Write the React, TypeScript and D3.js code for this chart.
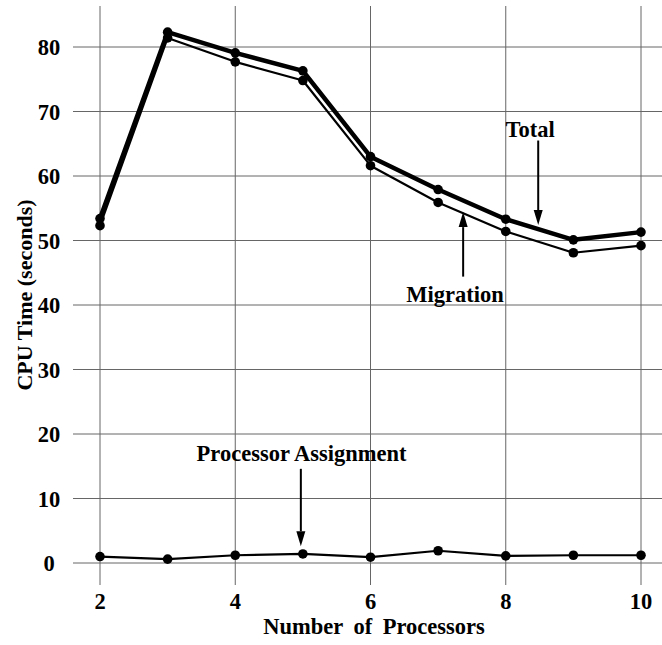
import * as d3 from 'd3'

// number of processors
const processors = [2, 3, 4, 5, 6, 7, 8, 9, 10]
// CPU time in seconds
const total = [53.4, 82.3, 79.1, 76.3, 63.0, 57.9, 53.3, 50.1, 51.3]
const migration = [52.3, 81.4, 77.7, 74.8, 61.6, 55.9, 51.4, 48.1, 49.2]
const assignment = [1.0, 0.6, 1.2, 1.4, 0.9, 1.9, 1.1, 1.2, 1.2]

const xTicks = [2, 4, 6, 8, 10]
const yTicks = [0, 10, 20, 30, 40, 50, 60, 70, 80]

const font = '"Liberation Serif", "Times New Roman", serif'

export default function App() {
  const width = 662
  const height = 645

  const x = d3.scaleLinear().domain([2, 10]).range([100, 641])
  const y = d3.scaleLinear().domain([0, 80]).range([563, 47])

  const line = (vals: number[]) =>
    d3.line<number>()
      .x((_, i) => x(processors[i]))
      .y(d => y(d))(vals) as string

  // vertical arrow: from value y0 to value y1 at x position, head at y1
  const arrow = (xv: number, y0: number, y1: number) => {
    const px = x(xv)
    const a = y(y0)
    const b = y(y1)
    const dir = b > a ? 1 : -1
    const headLen = 15
    return (
      <g>
        <line x1={px} x2={px} y1={a} y2={b - dir * headLen} stroke="#000" strokeWidth={2} />
        <path d={`M${px - 4.5},${b - dir * headLen} L${px + 4.5},${b - dir * headLen} L${px},${b} Z`} fill="#000" />
      </g>
    )
  }

  const series = [
    { vals: total, w: 4.5 },
    { vals: migration, w: 2.2 },
    { vals: assignment, w: 2.2 },
  ]

  return (
    <svg width={width} height={height} style={{ position: 'absolute', left: 0, top: 0, background: '#fff' }}>
      {/* grid */}
      <g stroke="#666" strokeWidth={1}>
        {yTicks.map(t => (
          <line key={'h' + t} x1={73} x2={662} y1={y(t)} y2={y(t)} />
        ))}
        {xTicks.map(t => (
          <line key={'v' + t} x1={x(t)} x2={x(t)} y1={6} y2={585} />
        ))}
      </g>

      {/* tick labels */}
      <g fontFamily={font} fontWeight="bold" fontSize={22.5} fill="#000">
        {yTicks.map(t => (
          <text key={'yl' + t} x={49} y={y(t)} dy="0.36em" textAnchor="middle">{t}</text>
        ))}
        {xTicks.map(t => (
          <text key={'xl' + t} x={x(t)} y={609} textAnchor="middle">{t}</text>
        ))}
        <text x={374} y={634} textAnchor="middle" wordSpacing={5}>Number of Processors</text>
        <text transform={`translate(32,295) rotate(-90)`} textAnchor="middle" fontSize={22}>CPU Time (seconds)</text>
      </g>

      {/* lines */}
      {series.map((s, k) => (
        <g key={k}>
          <path d={line(s.vals)} fill="none" stroke="#000" strokeWidth={s.w} strokeLinejoin="round" />
          {s.vals.map((v, i) => (
            <circle key={i} cx={x(processors[i])} cy={y(v)} r={4.8} fill="#000" />
          ))}
        </g>
      ))}

      {/* annotations */}
      <g fontFamily={font} fontWeight="bold" fontSize={22.5} fill="#000">
        <text x={x(8.36)} y={y(66.0)} textAnchor="middle">Total</text>
        <text x={x(7.25)} y={y(40.5)} textAnchor="middle">Migration</text>
        <text x={x(4.98)} y={y(15.8)} textAnchor="middle">Processor Assignment</text>
      </g>
      {arrow(8.48, 65.5, 52.4)}
      {arrow(7.37, 44.4, 54.4)}
      {arrow(4.97, 14.6, 2.6)}
    </svg>
  )
}
